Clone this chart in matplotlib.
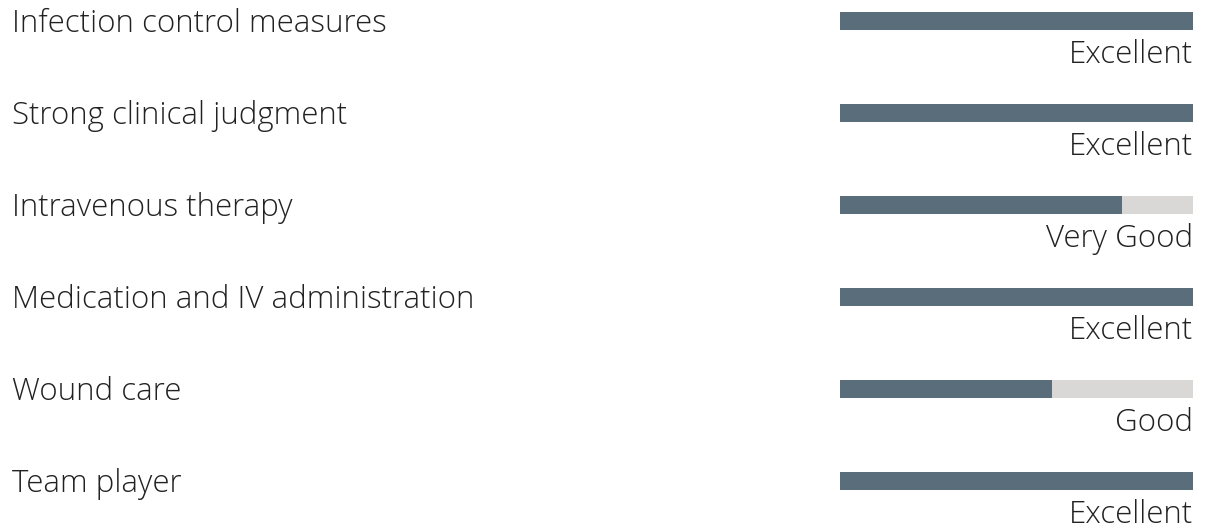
import numpy as np
import matplotlib
matplotlib.use("Agg")
import matplotlib.pyplot as plt

# skills and rating (fraction of full bar)
skills = [
    "Infection control measures",
    "Strong clinical judgment",
    "Intravenous therapy",
    "Medication and IV administration",
    "Wound care",
    "Team player",
]
levels = [1.0, 1.0, 0.8, 1.0, 0.6, 1.0]
ratings = ["Excellent", "Excellent", "Very Good", "Excellent", "Good", "Excellent"]

DARK = "#5a6d7a"
LIGHT = "#d9d8d6"
TXT = "#222222"

plt.rcParams["font.family"] = ["Open Sans", "DejaVu Sans"]

fig = plt.figure(figsize=(12.1, 5.31), dpi=100)
ax = fig.add_axes([0, 0, 1, 1])
ax.set_xlim(0, 1210)
ax.set_ylim(510 / 92, -21 / 92)
ax.axis("off")

rows = np.arange(len(skills))
bar_left, bar_len = 840, 353
ax.barh(rows, [bar_len] * len(rows), left=bar_left, height=18 / 92, color=LIGHT)
ax.barh(rows, np.array(levels) * bar_len, left=bar_left, height=18 / 92, color=DARK)

for r, name, rate in zip(rows, skills, ratings):
    ax.text(12, r + 0.12, name, ha="left", va="baseline", fontsize=22.5,
            fontweight="light", color=TXT)
    # rating sits under the bar, right-aligned with its end
    ax.text(1193, r + 0.455, rate, ha="right", va="baseline", fontsize=22.5,
            fontweight="light", color=TXT)

fig.savefig("out.png", dpi=100)
